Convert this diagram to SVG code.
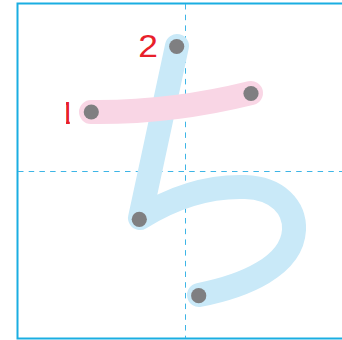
<svg xmlns="http://www.w3.org/2000/svg" width="342" height="340" viewBox="0 0 342 340">
<style>
.guide{stroke:#3db5e6;stroke-width:1;stroke-dasharray:5.5 5.2;fill:none}
.stroke{fill:none;stroke-width:24;stroke-linecap:round;stroke-linejoin:round}
.dot{fill:#7f7f81}
.num{font-family:"Liberation Sans",Arial,sans-serif;fill:#e8202a}
</style>
<defs>
<clipPath id="c1"><rect x="66" y="95" width="3.8" height="35"/></clipPath>
</defs>
<rect x="0" y="0" width="342" height="340" fill="#ffffff"/>
<g id="frame">
<rect x="17.5" y="3.5" width="400" height="335" fill="none" stroke="#1aaee2" stroke-width="2"/>
<line class="guide" x1="185.5" y1="4" x2="185.5" y2="338"/>
<line class="guide" x1="18" y1="171.5" x2="342" y2="171.5"/>
</g>
<g id="connectors">
<path id="stroke2" class="stroke" stroke="#c9e9f8" d="M177,46 L140,218 C175,196 212,186 245,187 C278,188 295,208 294,230 C292,266 245,286 199,295"/>
<path id="stroke1" class="stroke" stroke="#f9d6e5" d="M91,112 Q170,113 251,93"/>
</g>
<g id="dots">
<circle class="dot" cx="91.3" cy="112" r="7.6"/>
<circle class="dot" cx="251" cy="93.5" r="7.6"/>
<circle class="dot" cx="176.7" cy="46.5" r="7.6"/>
<circle class="dot" cx="139.3" cy="219.3" r="7.6"/>
<circle class="dot" cx="198.7" cy="295.7" r="7.6"/>
</g>
<g id="label1" clip-path="url(#c1)"><text class="num" x="58.5" y="124.3" font-size="31">1</text></g>
<g id="label2"><text class="num" font-size="31" transform="translate(138.3,56.7) scale(1.14,1)">2</text></g>
</svg>
